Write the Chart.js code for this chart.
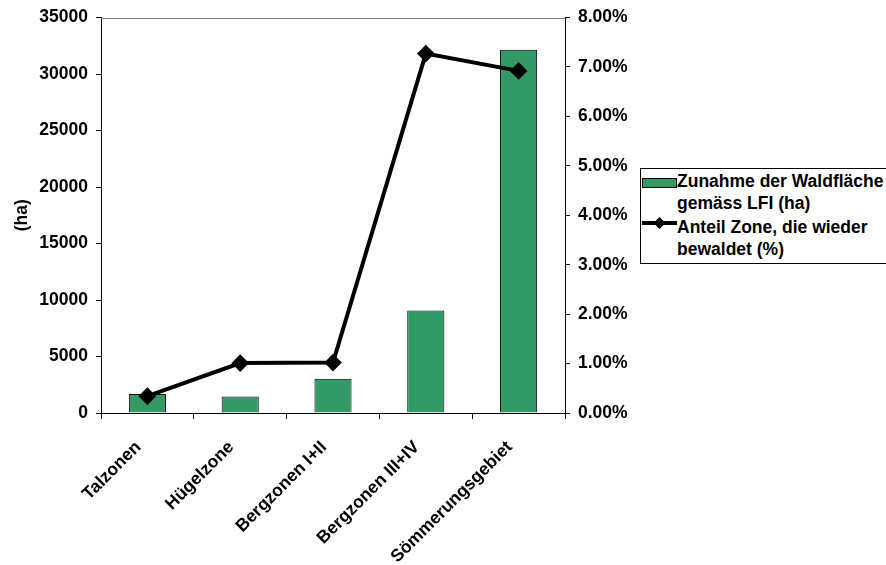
<!DOCTYPE html>
<html>
<head>
<meta charset="utf-8">
<script src="https://cdn.jsdelivr.net/npm/chart.js@4.4.1/dist/chart.umd.min.js"></script>
<style>
  body { margin: 0; background: #fff; }
  #wrap { position: relative; width: 886px; height: 565px; overflow: hidden; }
  #legende {
    position: absolute; left: 640px; top: 168px; width: 260px; height: 96px;
    border: 1px solid #000; box-sizing: border-box; background: #fff;
    font: bold 17.5px "Liberation Sans", Arial, sans-serif; color: #000; line-height: 21.5px;
    white-space: nowrap;
  }
  .eintrag { position: absolute; left: 36px; }
  .sym { position: absolute; left: 1px; width: 35px; }
</style>
</head>
<body>
<div id="wrap">
  <canvas id="chart" width="886" height="565"></canvas>
  <div id="legende">
    <div class="sym" style="top:9px;height:10px;background:#339966;border:1px solid #000;box-sizing:border-box;"></div>
    <div class="eintrag" style="top:2px;">Zunahme der Waldfläche<br>gemäss LFI (ha)</div>
    <svg class="sym" style="top:48px;" width="35" height="12"><line x1="0" y1="6" x2="35" y2="6" stroke="#000" stroke-width="4"/><polygon points="17.5,0 23.5,6 17.5,12 11.5,6" fill="#000"/></svg>
    <div class="eintrag" style="top:48px;">Anteil Zone, die wieder<br>bewaldet (%)</div>
  </div>
</div>
<script>
// Kategorien und Werte
const zonen = ['Talzonen', 'Hügelzone', 'Bergzonen I+II', 'Bergzonen III+IV', 'Sömmerungsgebiet'];
const zunahmeHa = [1680, 1470, 3040, 9060, 32150];
const anteilProzent = [0.34, 1.01, 1.02, 7.27, 6.92];

const schrift = { family: '"Liberation Sans", Arial, sans-serif', size: 17.5, weight: 'bold' };

// graue Linie oben am Diagramm
const obereLinie = {
  id: 'obereLinie',
  afterDraw(chart) {
    const a = chart.chartArea, ctx = chart.ctx;
    ctx.save();
    ctx.strokeStyle = '#808080';
    ctx.lineWidth = 1;
    ctx.beginPath();
    ctx.moveTo(a.left, Math.round(a.top) + 0.5);
    ctx.lineTo(a.right, Math.round(a.top) + 0.5);
    ctx.stroke();
    ctx.restore();
  }
};

function festeBreite(w) {
  return s => { s.width = w; s.paddingTop = 0; s.paddingBottom = 0; };
}

new Chart(document.getElementById('chart'), {
  type: 'bar',
  data: {
    labels: zonen,
    datasets: [{
      type: 'line',
      label: 'Anteil Zone, die wieder bewaldet (%)',
      data: anteilProzent,
      yAxisID: 'y1',
      borderColor: '#000',
      backgroundColor: '#000',
      borderWidth: 4,
      pointStyle: 'rectRot',
      pointRadius: 6,
      tension: 0,
      order: 0
    }, {
      label: 'Zunahme der Waldfläche gemäss LFI (ha)',
      data: zunahmeHa,
      yAxisID: 'y',
      backgroundColor: '#339966',
      borderColor: '#000',
      borderWidth: 1,
      barPercentage: 0.4,
      categoryPercentage: 1,
      order: 1
    }]
  },
  options: {
    responsive: false,
    devicePixelRatio: 1,
    animation: false,
    layout: { padding: { top: 17.5, left: 0, right: 0, bottom: 0 } },
    plugins: { legend: { display: false }, tooltip: { enabled: false } },
    scales: {
      x: {
        grid: { drawOnChartArea: false, drawTicks: true, tickLength: 6, color: '#000', offset: true },
        border: { color: '#000', width: 1 },
        ticks: { color: '#000', font: schrift, maxRotation: 45, minRotation: 45, padding: 18, labelOffset: -9 },
        afterFit: s => { s.height = 152; s.paddingLeft = 0; s.paddingRight = 0; }
      },
      y: {
        position: 'left',
        min: 0, max: 35000,
        ticks: { stepSize: 5000, color: '#000', font: schrift, padding: 8, callback: v => String(v) },
        grid: { drawOnChartArea: false, drawTicks: true, tickLength: 5, color: '#000' },
        border: { color: '#000', width: 1 },
        title: { display: true, text: '(ha)', color: '#000', font: schrift, padding: { top: 12, bottom: 0 } },
        afterFit: festeBreite(101)
      },
      y1: {
        position: 'right',
        min: 0, max: 8,
        ticks: { stepSize: 1, color: '#000', font: schrift, padding: 8, callback: v => v.toFixed(2) + '%' },
        grid: { drawOnChartArea: false, drawTicks: true, tickLength: 5, color: '#000' },
        border: { color: '#000', width: 1 },
        afterFit: festeBreite(321)
      }
    }
  },
  plugins: [obereLinie]
});
</script>
</body>
</html>
